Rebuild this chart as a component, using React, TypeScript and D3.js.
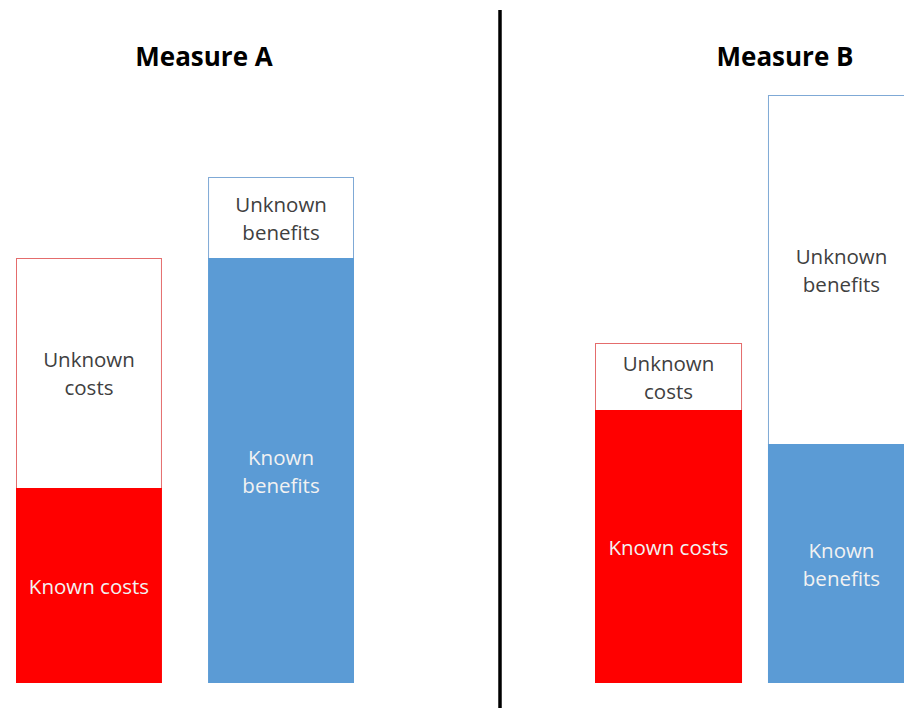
import React from "react";
import * as d3 from "d3";

const panels = ["Measure A", "Measure B"];
const categories = ["Costs", "Benefits"];
// values in arbitrary units (stacked: known at bottom, unknown on top)
const knownValues = [
  [195, 425],
  [273, 239],
];
const unknownValues = [
  [230, 81],
  [67, 349],
];
const knownLabels = [
  ["Known costs", "Known\nbenefits"],
  ["Known costs", "Known\nbenefits"],
];
const unknownLabels = [
  ["Unknown\ncosts", "Unknown\nbenefits"],
  ["Unknown\ncosts", "Unknown\nbenefits"],
];

const W = 904;
const H = 708;
const FONT = "'Open Sans', sans-serif";
const fillColors = ["#ff0000", "#5b9bd5"];
const borderColors = ["#e46c6c", "#7fa9d6"];

export default function App() {
  const y = d3.scaleLinear().domain([0, 588]).range([683, 95]);
  const xScales = [
    d3.scaleBand().domain(categories).range([16, 354]).paddingInner(0.24).paddingOuter(0),
    d3.scaleBand().domain(categories).range([595, 915]).paddingInner(0.15).paddingOuter(0),
  ];
  const titleX = [204, 785];

  const renderLines = (text: string, cx: number, cy: number, color: string, key: string) => {
    const lines = text.split("\n");
    const lh = 28;
    const start = cy - ((lines.length - 1) * lh) / 2;
    return (
      <text key={key} x={cx} textAnchor="middle" fontFamily={FONT} fontSize={20.5} fill={color}>
        {lines.map((l, i) => (
          <tspan key={i} x={cx} y={start + i * lh} dominantBaseline="central">
            {l}
          </tspan>
        ))}
      </text>
    );
  };

  return (
    <svg width={W} height={H} style={{ position: "absolute", left: 0, top: 0, background: "#fff" }}>
      <rect x={0} y={0} width={W} height={H} fill="#fff" />
      <line x1={500} x2={500} y1={10} y2={H} stroke="#000" strokeWidth={3.5} />
      {panels.map((p, pi) => {
        const x = xScales[pi];
        return (
          <g key={p}>
            <text x={titleX[pi]} y={56} textAnchor="middle" dominantBaseline="central" fontFamily={FONT} fontWeight={700} fontSize={26} fill="#000">
              {p}
            </text>
            {categories.map((c, ci) => {
              const k = knownValues[pi][ci];
              const u = unknownValues[pi][ci];
              const x0 = x(c)!;
              const bw = x.bandwidth();
              const cx = x0 + bw / 2;
              const yk = y(k);
              const yu = y(k + u);
              const y0 = y(0);
              return (
                <g key={c}>
                  <rect x={x0 + 0.5} y={yu + 0.5} width={bw - 1} height={yk - yu} fill="#fff" stroke={borderColors[ci]} strokeWidth={1} />
                  <rect x={x0} y={yk} width={bw} height={y0 - yk} fill={fillColors[ci]} />
                  {renderLines(unknownLabels[pi][ci], cx, (yu + yk) / 2, "#404040", "u")}
                  {renderLines(knownLabels[pi][ci], cx, (yk + y0) / 2, "#f2f2f2", "k")}
                </g>
              );
            })}
          </g>
        );
      })}
    </svg>
  );
}
